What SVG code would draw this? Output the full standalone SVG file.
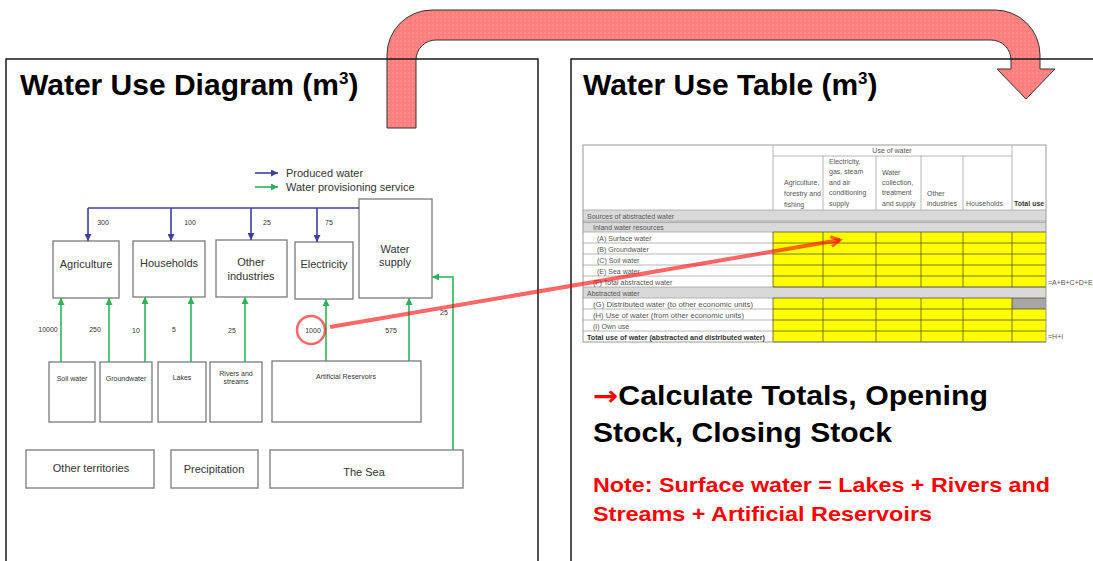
<svg xmlns="http://www.w3.org/2000/svg" width="1093" height="561" viewBox="0 0 1093 561">
  <defs>
    <style>
      .panel{fill:none;stroke:#1a1a1a;stroke-width:1.5}
      .title{font-family:"Liberation Sans",Arial,sans-serif;font-weight:bold;font-size:30px;fill:#000}
      .sup{font-size:17px}
      .box{fill:#fff;stroke:#7a7a7a;stroke-width:1.3}
      .lbl{font-family:"Liberation Sans",Arial,sans-serif;font-size:11px;fill:#333;text-anchor:middle}
      .sm{font-family:"Liberation Sans",Arial,sans-serif;font-size:7px;fill:#333;text-anchor:middle}
      .leg{font-family:"Liberation Sans",Arial,sans-serif;font-size:11px;fill:#333}
      .blue{stroke:#3f3f9c;stroke-width:1.6;fill:none}
      .green{stroke:#2bb35a;stroke-width:1.6;fill:none}
      .tt{font-family:"Liberation Sans",Arial,sans-serif;font-size:7px;fill:#555}
      .ttb{font-family:"Liberation Sans",Arial,sans-serif;font-size:7px;fill:#333;font-weight:bold}
      .grid{stroke:#a3a3a3;stroke-width:0.8;fill:none}
      .ygrid{stroke:#55551a;stroke-width:0.8;fill:none}
      .big{font-family:"Liberation Sans",Arial,sans-serif;font-weight:bold;font-size:27px;fill:#000}
      .note{font-family:"Liberation Sans",Arial,sans-serif;font-weight:bold;font-size:21px;fill:#ff0000}
      .hl{stroke:#ff0000;stroke-opacity:0.6;fill:none}
    </style>
    <pattern id="dots" width="4" height="4" patternUnits="userSpaceOnUse">
      <rect width="4" height="4" fill="#ff7f7f"/>
      <circle cx="1" cy="1" r="0.6" fill="#fff" opacity="0.4"/>
    </pattern>
    <marker id="ahBlue" markerWidth="7" markerHeight="7" refX="7" refY="3.5" orient="auto" markerUnits="userSpaceOnUse">
      <path d="M0,0 L7,3.5 L0,7 z" fill="#3f3f9c"/>
    </marker>
    <marker id="ahGreen" markerWidth="7" markerHeight="7" refX="7" refY="3.5" orient="auto" markerUnits="userSpaceOnUse">
      <path d="M0,0 L7,3.5 L0,7 z" fill="#2bb35a"/>
    </marker>
    <marker id="ahRed" markerWidth="14" markerHeight="14" refX="11" refY="7" orient="auto" markerUnits="userSpaceOnUse">
      <path d="M2,2 L11,7 L2,12" fill="none" stroke="#ff0000" stroke-opacity="0.6" stroke-width="3"/>
    </marker>
  </defs>

  <rect width="1093" height="561" fill="#fff"/>

  <!-- bent transfer arrow between the two panels -->
  <g id="transfer-arrow">
    <path d="M387,128 L387,55 A45,45 0 0 1 432,10 L995,10 A45,45 0 0 1 1040,55 L1040,69 L1055,69 L1026,99 L997,69 L1011,69 L1011,60 A20,20 0 0 0 991,40 L436,40 A20,20 0 0 0 416,60 L416,128 Z" fill="url(#dots)" stroke="#333" stroke-width="1"/>
  </g>

  <!-- panels -->
  <g id="panel-diagram">
    <path class="panel" d="M6,565 L6,59 L538,59 L538,565"/>
    <text class="title" x="20" y="95">Water Use Diagram (m<tspan class="sup" dy="-11">3</tspan><tspan dy="11">)</tspan></text>
  </g>
  <g id="panel-table">
    <path class="panel" d="M571,565 L571,59 L1096,59"/>
    <text class="title" x="583" y="95">Water Use Table (m<tspan class="sup" dy="-11">3</tspan><tspan dy="11">)</tspan></text>
  </g>

  <!-- legend -->
  <g id="legend">
    <line class="blue" x1="255" y1="173" x2="278" y2="173" marker-end="url(#ahBlue)"/>
    <text class="leg" x="286" y="177">Produced water</text>
    <line class="green" x1="255" y1="187" x2="278" y2="187" marker-end="url(#ahGreen)"/>
    <text class="leg" x="286" y="191">Water provisioning service</text>
  </g>

  <!-- users -->
  <g id="agriculture"><rect class="box" x="53" y="241" width="66" height="57"/><text class="lbl" x="86" y="268">Agriculture</text></g>
  <g id="households"><rect class="box" x="133" y="241" width="72" height="56"/><text class="lbl" x="169" y="267">Households</text></g>
  <g id="other-industries"><rect class="box" x="216" y="240" width="71" height="57"/><text class="lbl" x="251" y="266">Other</text><text class="lbl" x="251" y="280">industries</text></g>
  <g id="electricity"><rect class="box" x="295" y="242" width="58" height="57"/><text class="lbl" x="324" y="268">Electricity</text></g>
  <g id="water-supply"><rect class="box" x="359" y="199" width="73" height="99"/><text class="lbl" x="395" y="253">Water</text><text class="lbl" x="395" y="266">supply</text></g>

  <!-- sources -->
  <g id="soil-water"><rect class="box" x="49" y="362" width="46" height="60"/><text class="sm" x="72" y="381">Soil water</text></g>
  <g id="groundwater"><rect class="box" x="100" y="362" width="52" height="60"/><text class="sm" x="126" y="381">Groundwater</text></g>
  <g id="lakes"><rect class="box" x="158" y="362" width="48" height="60"/><text class="sm" x="182" y="380">Lakes</text></g>
  <g id="rivers"><rect class="box" x="210" y="362" width="52" height="60"/><text class="sm" x="236" y="376">Rivers and</text><text class="sm" x="236" y="384">streams</text></g>
  <g id="reservoirs"><rect class="box" x="272" y="361" width="149" height="61"/><text class="sm" x="346" y="379">Artificial Reservoirs</text></g>

  <g id="other-territories"><rect class="box" x="26" y="450" width="128" height="38"/><text class="lbl" x="91" y="472">Other territories</text></g>
  <g id="precipitation"><rect class="box" x="171" y="450" width="87" height="38"/><text class="lbl" x="214" y="473">Precipitation</text></g>
  <g id="the-sea"><rect class="box" x="270" y="450" width="193" height="38"/><text class="lbl" x="364" y="476">The Sea</text></g>

  <!-- flows -->
  <g id="connectors">
    <path class="blue" d="M359,208 L88,208"/>
    <line class="blue" x1="88" y1="208" x2="88" y2="241" marker-end="url(#ahBlue)"/>
    <line class="blue" x1="171" y1="208" x2="171" y2="241" marker-end="url(#ahBlue)"/>
    <line class="blue" x1="251" y1="208" x2="251" y2="240" marker-end="url(#ahBlue)"/>
    <line class="blue" x1="317" y1="208" x2="317" y2="242" marker-end="url(#ahBlue)"/>

    <line class="green" x1="61" y1="362" x2="61" y2="298" marker-end="url(#ahGreen)"/>
    <line class="green" x1="109" y1="362" x2="109" y2="298" marker-end="url(#ahGreen)"/>
    <line class="green" x1="145" y1="362" x2="145" y2="297" marker-end="url(#ahGreen)"/>
    <line class="green" x1="191" y1="362" x2="191" y2="297" marker-end="url(#ahGreen)"/>
    <line class="green" x1="245" y1="362" x2="245" y2="297" marker-end="url(#ahGreen)"/>
    <line class="green" x1="326" y1="361" x2="326" y2="299" marker-end="url(#ahGreen)"/>
    <line class="green" x1="409" y1="361" x2="409" y2="298" marker-end="url(#ahGreen)"/>
    <path class="green" d="M453,450 L453,277 L432,277" marker-end="url(#ahGreen)"/>

    <text class="sm" x="103" y="225">300</text>
    <text class="sm" x="190" y="225">100</text>
    <text class="sm" x="267" y="225">25</text>
    <text class="sm" x="329" y="225">75</text>
    <text class="sm" x="48" y="332">10000</text>
    <text class="sm" x="95" y="332">250</text>
    <text class="sm" x="136" y="333">10</text>
    <text class="sm" x="174" y="332">5</text>
    <text class="sm" x="232" y="333">25</text>
    <text class="sm" x="313" y="333">1000</text>
    <text class="sm" x="391" y="333">575</text>
    <text class="sm" x="444" y="315">25</text>
  </g>

  <!-- water use table -->
  <g id="use-table">
    <!-- fills -->
    <rect x="583" y="210" width="463" height="22" fill="#d9d9d9"/>
    <rect x="583" y="287" width="463" height="11" fill="#d9d9d9"/>
    <rect x="773" y="232" width="273" height="55" fill="#ffff00"/>
    <rect x="773" y="298" width="273" height="44" fill="#ffff00"/>
    <rect x="1012" y="298" width="34" height="11" fill="#a6a6a6"/>

    <!-- label column rules -->
    <path class="grid" d="M583,210H1046 M583,221H1046 M583,222.5H1046 M583,232H773 M583,243H773 M583,254H773 M583,265H773 M583,276H773 M583,287H1046 M583,298H773 M583,309H773 M583,320H773 M583,331H773 M773,156H1012 M773,145V210 M823,156V210 M876,156V210 M921,156V210 M963,156V210 M1012,145V210"/>
    <!-- yellow block rules -->
    <path class="ygrid" d="M773,232H1046 M773,243H1046 M773,254H1046 M773,265H1046 M773,276H1046 M773,287H1046 M773,298H1046 M773,309H1046 M773,320H1046 M773,331H1046 M773,342H1046 M773,232V287 M823,232V287 M876,232V287 M921,232V287 M963,232V287 M1012,232V287 M773,298V342 M823,298V342 M876,298V342 M921,298V342 M963,298V342 M1012,298V342"/>
    <rect x="583" y="145" width="463" height="197" fill="none" stroke="#999" stroke-width="1"/>

    <!-- headings -->
    <text class="tt" x="892" y="153" text-anchor="middle">Use of water</text>
    <text class="tt" x="784" y="185">Agriculture,</text>
    <text class="tt" x="784" y="196">forestry and</text>
    <text class="tt" x="784" y="207">fishing</text>
    <text class="tt" x="829" y="164">Electricity,</text>
    <text class="tt" x="829" y="174">gas, steam</text>
    <text class="tt" x="829" y="185">and air</text>
    <text class="tt" x="829" y="195">conditioning</text>
    <text class="tt" x="829" y="206">supply</text>
    <text class="tt" x="882" y="175">Water</text>
    <text class="tt" x="882" y="185">collection,</text>
    <text class="tt" x="882" y="195">treatment</text>
    <text class="tt" x="882" y="206">and supply</text>
    <text class="tt" x="927" y="196">Other</text>
    <text class="tt" x="927" y="206">industries</text>
    <text class="tt" x="966" y="206">Households</text>
    <text class="ttb" x="1014" y="206">Total use</text>

    <!-- row labels -->
    <text class="tt" x="587" y="219">Sources of abstracted water</text>
    <text class="tt" x="593" y="230">Inland water resources</text>
    <text class="tt" x="597" y="241">(A) Surface water</text>
    <text class="tt" x="597" y="252">(B) Groundwater</text>
    <text class="tt" x="597" y="263">(C) Soil water</text>
    <text class="tt" x="597" y="274">(E) Sea water</text>
    <text class="tt" x="593" y="285">(F) Total abstracted water</text>
    <text class="tt" x="587" y="296">Abstracted water</text>
    <text class="tt" x="593" y="307" textLength="160" lengthAdjust="spacingAndGlyphs">(G) Distributed water (to other economic units)</text>
    <text class="tt" x="593" y="318" textLength="151" lengthAdjust="spacingAndGlyphs">(H) Use of water (from other economic units)</text>
    <text class="tt" x="593" y="329">(I) Own use</text>
    <text class="ttb" x="587" y="340" textLength="178" lengthAdjust="spacingAndGlyphs">Total use of water (abstracted and distributed water)</text>

    <text class="tt" x="1048" y="285" font-size="5.5">=A+B+C+D+E</text>
    <text class="tt" x="1048" y="339" font-size="5.5">=H+I</text>
  </g>

  <!-- highlight linking the 1000 flow to its table cell -->
  <g id="highlight">
    <circle class="hl" cx="311" cy="330" r="14" stroke-width="2.5"/>
    <line class="hl" x1="330" y1="327" x2="840" y2="240" stroke-width="4" marker-end="url(#ahRed)"/>
  </g>

  <!-- follow-up notes -->
  <g id="notes">
    <text class="big" x="593" y="405" textLength="395" lengthAdjust="spacingAndGlyphs"><tspan fill="#ff0000" font-family="'DejaVu Sans',sans-serif">→</tspan>Calculate Totals, Opening</text>
    <text class="big" x="593" y="442" textLength="299" lengthAdjust="spacingAndGlyphs">Stock, Closing Stock</text>
    <text class="note" x="593" y="492" textLength="457" lengthAdjust="spacingAndGlyphs">Note: Surface water = Lakes + Rivers and</text>
    <text class="note" x="593" y="521" textLength="339" lengthAdjust="spacingAndGlyphs">Streams + Artificial Reservoirs</text>
  </g>
</svg>
